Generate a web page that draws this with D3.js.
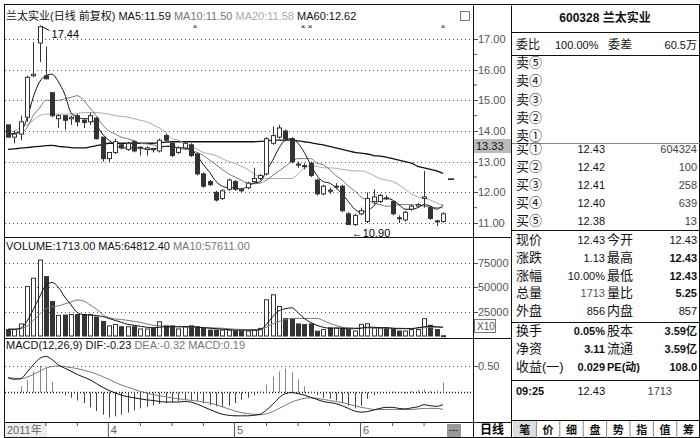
<!DOCTYPE html>
<html><head><meta charset="utf-8">
<script src="https://cdn.jsdelivr.net/npm/d3@7"></script>
<style>
body{margin:0;background:#fff;}
text{font-family:"Liberation Sans","Noto Sans CJK SC",sans-serif;}
</style></head>
<body><svg id="chart" width="700" height="438"></svg>
<script>
// daily candles: open, high, low, close
const opens  = [14.2,13.8,13.9,14.45,15.8,16.87,15.8,15.25,14.4,14.5,14.4,14.5,14.35,14.3,14.42,13.8,13.1,13.3,13.55,13.4,13.65,13.45,13.4,13.42,13.35,13.85,13.6,13.3,13.45,13.55,13.25,12.6,12.35,12.0,11.8,12.1,12.35,12.1,12.15,12.35,12.45,12.6,13.6,13.8,14.0,13.75,12.92,12.87,12.95,12.4,11.95,12.07,12.18,12.2,11.3,10.95,11.3,11.05,11.7,11.7,11.82,11.7,11.17,11.1,11.45,11.55,11.8,11.5,11.07,11.05];
const highs  = [14.2,14.0,14.5,15.8,16.9,17.44,16.75,15.25,14.55,14.5,14.5,14.55,14.4,14.6,14.45,13.8,13.3,13.75,13.6,13.65,13.7,13.5,13.5,13.45,13.75,13.9,13.65,13.5,13.65,13.6,13.3,12.65,12.4,12.05,12.1,12.45,12.4,12.15,12.35,12.8,12.6,13.8,14.15,14.2,14.05,13.8,13.0,12.95,13.0,12.45,12.25,12.15,12.3,12.25,11.35,11.3,11.5,12.0,12.1,11.95,11.9,11.75,11.25,11.4,11.6,11.65,12.7,11.55,11.1,11.35];
const lows   = [13.8,13.6,13.7,14.3,15.75,16.25,15.7,14.45,14.1,14.05,14.2,14.15,14.1,14.2,13.72,13.0,13.0,13.25,13.4,13.35,13.3,13.2,13.2,13.3,13.3,13.65,13.15,13.25,13.4,13.15,12.55,12.15,12.2,11.7,11.75,12.05,12.05,12.0,12.1,12.3,12.4,12.55,13.55,13.75,13.7,12.95,12.8,12.75,12.5,11.9,11.9,11.95,12.1,11.35,10.95,10.9,11.25,11.0,11.6,11.65,11.75,11.25,11.0,11.05,11.4,11.5,11.5,11.1,10.9,11.0];
const closes = [13.8,13.9,14.3,15.75,15.85,17.4,15.7,14.5,14.5,14.35,14.45,14.3,14.28,14.5,13.75,13.1,13.3,13.65,13.45,13.6,13.35,13.47,13.45,13.4,13.7,13.7,13.2,13.45,13.6,13.2,12.6,12.2,12.25,11.75,12.05,12.4,12.1,12.05,12.3,12.45,12.55,13.75,13.85,14.1,13.75,13.0,12.9,12.85,12.55,11.95,12.2,12.05,12.2,11.4,10.95,11.25,11.4,11.8,11.85,11.9,11.8,11.3,11.15,11.35,11.55,11.6,11.85,11.15,11.05,11.3];

const ma5  = [13.9,13.92,14.0,14.4,15.1,15.6,15.8,15.85,15.6,15.2,14.6,14.45,14.4,14.4,14.2,13.9,13.7,13.55,13.45,13.45,13.45,13.45,13.4,13.42,13.45,13.5,13.5,13.45,13.45,13.4,13.2,12.9,12.65,12.35,12.2,12.15,12.15,12.1,12.2,12.3,12.35,12.7,13.05,13.45,13.7,13.75,13.6,13.3,12.9,12.55,12.35,12.3,12.15,11.95,11.7,11.45,11.35,11.4,11.55,11.75,11.8,11.75,11.6,11.45,11.45,11.5,11.6,11.55,11.45,11.59];
const ma10 = [13.9,13.92,13.95,14.1,14.5,14.75,15.0,15.0,15.0,15.05,15.1,15.15,15.0,14.75,14.5,14.2,14.0,13.9,13.8,13.75,13.68,13.6,13.58,13.55,13.5,13.5,13.5,13.45,13.4,13.38,13.3,13.2,13.05,12.9,12.75,12.6,12.5,12.4,12.3,12.28,12.3,12.4,12.55,12.7,12.85,13.0,13.1,13.1,13.1,12.95,12.9,12.75,12.55,12.4,12.2,12.05,11.85,11.75,11.65,11.6,11.55,11.55,11.6,11.6,11.6,11.58,11.55,11.52,11.5,11.5];
const ma20 = [13.95,14.0,14.1,14.2,14.35,14.5,14.55,14.55,14.55,14.55,14.55,14.57,14.6,14.6,14.6,14.58,14.55,14.5,14.48,14.45,14.4,14.35,14.3,14.2,14.1,13.95,13.75,13.7,13.6,13.5,13.4,13.3,13.25,13.2,13.1,13.0,12.95,12.85,12.75,12.6,12.5,12.45,12.45,12.45,12.45,12.45,12.6,12.8,12.85,12.85,12.8,12.8,12.78,12.75,12.72,12.7,12.7,12.65,12.55,12.45,12.4,12.35,12.25,12.1,11.95,11.85,11.8,11.75,11.65,11.58];
const ma60 = [13.4,13.42,13.44,13.46,13.48,13.5,13.52,13.53,13.5,13.48,13.46,13.45,13.45,13.48,13.52,13.56,13.6,13.6,13.6,13.6,13.6,13.6,13.6,13.6,13.62,13.64,13.65,13.65,13.65,13.65,13.65,13.65,13.65,13.65,13.65,13.65,13.65,13.65,13.65,13.65,13.66,13.68,13.7,13.7,13.7,13.7,13.68,13.65,13.62,13.58,13.55,13.5,13.45,13.4,13.35,13.3,13.28,13.25,13.2,13.18,13.15,13.1,13.05,13.0,12.95,12.85,12.8,12.75,12.7,12.62];

const volume = [6600,6600,12400,50800,59400,78000,61000,35500,21200,21500,22000,22000,22000,22000,19500,15000,10400,11800,9500,9500,9500,7200,7200,7800,14600,10400,10400,7200,9500,10400,9500,7800,6100,6100,6100,6100,5100,5100,5100,6100,7800,37200,42300,30400,17800,17800,12400,11700,12400,4900,6600,8300,8300,8300,6600,5100,12000,12600,8300,8300,8300,7200,5100,5100,6600,6600,17800,11000,6600,300];
const vma5  = [7000,7000,8000,15000,27000,40000,52000,55000,50000,40000,32000,24000,22000,21500,21000,20000,18000,16000,14000,12000,11000,10000,9000,8500,9000,9500,9500,9500,9500,9500,9000,8500,8000,7500,7000,6500,6000,6000,6000,6000,6500,12000,20000,26000,28000,29000,24000,18000,14000,11000,9000,8000,8000,8000,7500,7500,8000,9000,9000,8500,8500,8000,7500,7500,7500,8500,9500,10000,9500,9000];
const vma10 = [7000,7000,7500,10000,16000,22000,28000,30000,31000,33000,35000,37000,36000,32000,28000,22000,19000,17500,17000,16000,15000,14000,12500,11000,10500,10000,9800,9500,9300,9200,9000,8800,8500,8200,8000,7500,7000,6800,6500,6500,6500,9000,12500,15000,17000,18000,18000,18000,18000,18000,16000,13000,11000,9000,8500,8200,8200,8200,8200,8100,8000,8000,8000,7800,7800,8200,8500,8800,9000,9000];

const dif = [.28,.25,.26,.38,.52,.64,.68,.62,.52,.46,.40,.34,.29,.24,.17,.10,.04,-.01,-.05,-.08,-.10,-.12,-.14,-.15,-.17,-.18,-.18,-.18,-.17,-.18,-.22,-.27,-.32,-.37,-.41,-.43,-.44,-.44,-.44,-.43,-.41,-.33,-.22,-.10,-.02,0,-.02,-.05,-.09,-.13,-.17,-.19,-.21,-.25,-.30,-.35,-.37,-.36,-.33,-.30,-.28,-.28,-.30,-.31,-.29,-.27,-.23,-.25,-.26,-.23];
const dea = [.28,.27,.26,.29,.34,.40,.46,.49,.50,.49,.47,.45,.42,.39,.35,.30,.25,.19,.14,.10,.06,.02,-.01,-.04,-.06,-.08,-.10,-.12,-.13,-.15,-.16,-.18,-.20,-.23,-.27,-.31,-.35,-.38,-.40,-.41,-.42,-.40,-.36,-.30,-.24,-.18,-.14,-.11,-.10,-.11,-.13,-.15,-.17,-.19,-.22,-.25,-.28,-.30,-.32,-.32,-.32,-.32,-.32,-.32,-.32,-.31,-.30,-.30,-.30,-.32];
const macd = [0,-0.02,0.12,0.24,0.4,0.5,0.45,0.2,0.0,-0.05,-0.1,-0.15,-0.2,-0.28,-0.35,-0.42,-0.47,-0.45,-0.42,-0.38,-0.34,-0.3,-0.27,-0.24,-0.22,-0.2,-0.18,-0.16,-0.15,-0.14,-0.16,-0.2,-0.24,-0.26,-0.27,-0.25,-0.2,-0.14,-0.1,-0.05,0.02,0.15,0.3,0.4,0.45,0.38,0.25,0.12,0.02,-0.05,-0.1,-0.12,-0.15,-0.2,-0.25,-0.3,-0.25,-0.12,-0.05,-0.02,0.0,0.02,0.0,-0.02,0.03,0.05,0.06,0.03,0.04,0.19];

const priceTicks = [11,12,13,14,15,16,17];
const volTicks = [25000,50000,75000];
const months = [{i:0,label:"2011年"},{i:16,label:"4"},{i:36,label:"5"},{i:56,label:"6"}];

const svg = d3.select('#chart');
const n = closes.length;
const x = d3.scaleLinear().domain([0, n-1]).range([8, 443]);
const yP = d3.scaleLinear().domain([11, 17]).range([223, 39]);
const yV = d3.scaleLinear().domain([0, 75000]).range([336, 263]);
const yM = d3.scaleLinear().domain([0, 0.5]).range([392.5, 366]);
const black = '#111', mid = '#777', light = '#aaa';

// frames
svg.append('rect').attr('x',4.5).attr('y',4.5).attr('width',695).attr('height',433).attr('fill','none').attr('stroke',black);
[[4,237,512,237],[4,338,512,338],[4,422,512,422],[473.5,5,473.5,438],[511.5,5,511.5,438]].forEach(l =>
  svg.append('line').attr('x1',l[0]).attr('y1',l[1]+.5).attr('x2',l[2]).attr('y2',l[3]+.5).attr('stroke',black));

svg.append('clipPath').attr('id','ax').append('rect').attr('x',474).attr('y',0).attr('width',36).attr('height',438);

function grid(vals, scale) {
  svg.append('g').selectAll('line').data(vals).join('line')
    .attr('x1',5).attr('x2',473).attr('y1',d=>Math.round(scale(d))+.5).attr('y2',d=>Math.round(scale(d))+.5)
    .attr('stroke','#555').attr('stroke-dasharray','1,3');
}
function axisLabels(vals, scale, fmt) {
  const g = svg.append('g').attr('clip-path','url(#ax)');
  g.selectAll('text').data(vals).join('text').attr('x',478).attr('y',d=>scale(d)+4)
    .attr('font-size',11).attr('fill','#555').text(fmt);
  g.selectAll('line').data(vals).join('line').attr('x1',474).attr('x2',478)
    .attr('y1',d=>Math.round(scale(d))+.5).attr('y2',d=>Math.round(scale(d))+.5).attr('stroke','#555');
}
grid(priceTicks, yP); axisLabels(priceTicks, yP, d=>d.toFixed(2));
grid(volTicks, yV); axisLabels(volTicks, yV, d=>d);
grid([0.5], yM); axisLabels([0.5], yM, d=>d.toFixed(2));
svg.append('line').attr('x1',5).attr('x2',473).attr('y1',yM(0)).attr('y2',yM(0)).attr('stroke',black).attr('stroke-width',1.5).attr('stroke-dasharray','1,2');

// minor ticks on price axis
const minor = d3.range(11.5, 17.5, 1);
svg.append('g').selectAll('line').data(minor).join('line').attr('x1',474).attr('x2',477)
  .attr('y1',d=>yP(d)).attr('y2',d=>yP(d)).attr('stroke','#555');

// 13.33 marker
svg.append('rect').attr('x',474).attr('y',139).attr('width',37).attr('height',14).attr('fill','#bbb');
svg.append('text').attr('x',476).attr('y',150).attr('font-size',11).attr('fill',black).text('13.33');
svg.append('rect').attr('x',474.5).attr('y',319.5).attr('width',21).attr('height',13).attr('fill','none').attr('stroke','#777');
svg.append('text').attr('x',477).attr('y',330).attr('font-size',10).attr('fill','#555').text('X10');

// MA lines
function line(data, scale, color, w) {
  svg.append('path').datum(data)
    .attr('d', d3.line().x((d,i)=>x(i)).y(d=>scale(d)).curve(d3.curveMonotoneX))
    .attr('fill','none').attr('stroke',color).attr('stroke-width',w||1);
}
line(ma60, yP, black, 1.3); line(ma20, yP, light); line(ma10, yP, mid); line(ma5, yP, black);

// candles
const idx = d3.range(n);
const up = i => closes[i] >= opens[i];
const cg = svg.append('g');
cg.selectAll('line').data(idx).join('line')
  .attr('x1',i=>Math.round(x(i))+.5).attr('x2',i=>Math.round(x(i))+.5)
  .attr('y1',i=>yP(highs[i])).attr('y2',i=>yP(lows[i])).attr('stroke','#333');
cg.selectAll('rect').data(idx).join('rect')
  .attr('x',i=>Math.round(x(i))-1.5).attr('width',4)
  .attr('y',i=>yP(Math.max(opens[i],closes[i]))).attr('height',i=>Math.max(1,Math.abs(yP(opens[i])-yP(closes[i]))))
  .attr('fill',i=>up(i)?'#fff':'#333').attr('stroke','#333');
svg.append('line').attr('x1',x(n-1)+5).attr('x2',x(n-1)+11).attr('y1',yP(12.43)).attr('y2',yP(12.43)).attr('stroke',black).attr('stroke-width',1.5);

// high / low notes
svg.append('line').attr('x1',x(5)+2).attr('y1',yP(17.44)+1).attr('x2',x(5)+10).attr('y2',yP(17.44)+5).attr('stroke',black);
svg.append('text').attr('x',x(5)+12).attr('y',yP(17.44)+12).attr('font-size',11).text('17.44');
svg.append('text').attr('x',x(55)-3).attr('y',yP(10.90)+11).attr('font-size',11).text('←10.90');
[195,303,310,443].forEach(px => svg.append('text').attr('x',px).attr('y',29).attr('font-size',8).attr('text-anchor','middle').text('×'));
svg.append('rect').attr('x',460.5).attr('y',11.5).attr('width',9).attr('height',9).attr('fill','none').attr('stroke','#777');

// volume
svg.append('g').selectAll('rect').data(idx).join('rect')
  .attr('x',i=>Math.round(x(i))-1.5).attr('width',4)
  .attr('y',i=>yV(volume[i])).attr('height',i=>Math.max(1,yV(0)-yV(volume[i])))
  .attr('fill',i=>up(i)?'#fff':'#333').attr('stroke','#333');
line(vma10, yV, mid); line(vma5, yV, black);

// macd
svg.append('g').selectAll('line').data(idx).join('line')
  .attr('x1',i=>Math.round(x(i))+.5).attr('x2',i=>Math.round(x(i))+.5)
  .attr('y1',yM(0)).attr('y2',i=>yM(macd[i])).attr('stroke',i=>macd[i]>=0?'#888':'#444');
line(dea, yM, mid); line(dif, yM, black);

// legends
function legend(y, parts) {
  const t = svg.append('text').attr('x',6).attr('y',y).attr('font-size',11);
  parts.forEach(p => t.append('tspan').attr('fill',p[1]).text(p[0]));
}
legend(20, [['兰太实业(日线 前复权) ',black],['MA5:11.59 ',black],['MA10:11.50 ',mid],['MA20:11.58 ',light],['MA60:12.62',black]]);
legend(250, [['VOLUME:1713.00 MA5:64812.40 ',black],['MA10:57611.00',mid]]);
legend(349, [['MACD(12,26,9) DIF:-0.23 ',black],['DEA:-0.32 MACD:0.19',mid]]);

// time axis
svg.append('rect').attr('x',5).attr('y',423).attr('width',42).attr('height',14).attr('fill','#eee');
months.forEach(m => {
  const px = m.i === 0 ? 6 : x(m.i)+1;
  if (m.i) svg.append('line').attr('x1',px-1.5).attr('x2',px-1.5).attr('y1',422).attr('y2',438).attr('stroke','#555');
  svg.append('text').attr('x',px+1).attr('y',434).attr('font-size',11).attr('fill','#666').text(m.label);
});
[6,11,21,26,31,41,46,51,61,66].forEach(i => svg.append('line').attr('x1',x(i)).attr('x2',x(i)).attr('y1',422).attr('y2',426).attr('stroke','#555'));
svg.append('rect').attr('x',447).attr('y',424).attr('width',14).attr('height',13).attr('fill','#999');
svg.append('text').attr('x',449).attr('y',433).attr('font-size',9).attr('fill',black).text('---');
svg.append('text').attr('x',492).attr('y',434).attr('font-size',12).attr('font-weight','bold').attr('text-anchor','middle').text('日线');

// right quote panel
const P = svg.append('g');
function t(xp, yp, s, o) {
  o = o || {};
  P.append('text').attr('x',xp).attr('y',yp).attr('font-size',o.size||12).attr('text-anchor',o.anchor||'start')
   .attr('font-weight',o.bold?'bold':'normal').attr('fill',o.fill||black).text(s);
}
t(605,22,'600328 兰太实业',{anchor:'middle',bold:true});
[32,55,143,230,322,380,420].forEach(yy => P.append('line').attr('x1',512).attr('x2',700).attr('y1',yy+.5).attr('y2',yy+.5).attr('stroke',yy===143?'#888':black));
t(516,49,'委比'); t(555,49,'100.00%',{size:11}); t(608,49,'委差'); t(697,49,'60.5万',{anchor:'end',size:11});
const sells = ['卖⑤','卖④','卖③','卖②','卖①'];
const sellY = [67,85,104,122,140];
sells.forEach((s,i) => t(516,sellY[i],s,{size:13}));
const buys = ['买①','买②','买③','买④','买⑤'];
const buyPrice = ['12.43','12.42','12.41','12.40','12.38'];
const buyVol = ['604324','100','258','639','13'];
const buyY = [153,171,189,207,225];
buys.forEach((s,i) => { t(516,buyY[i],s,{size:13}); t(605,buyY[i],buyPrice[i],{anchor:'end',size:11}); t(697,buyY[i],buyVol[i],{anchor:'end',size:11,fill:'#444'}); });
const statL = ['现价','涨跌','涨幅','总量','外盘'], statLV = ['12.43','1.13','10.00%','1713','856'];
const statR = ['今开','最高','最低','量比','内盘'], statRV = ['12.43','12.43','12.43','5.25','857'];
const statY = [244,262,280,297,315];
statL.forEach((s,i) => { t(516,statY[i],s,{size:13}); t(605,statY[i],statLV[i],{anchor:'end',size:11,fill:i===3?'#555':black});
  t(607,statY[i],statR[i],{size:13}); t(697,statY[i],statRV[i],{anchor:'end',size:11,bold:i>0&&i<4}); });
const finL = ['换手','净资','收益(一)'], finLV = ['0.05%','3.11','0.029'];
const finR = ['股本','流通','PE(动)'], finRV = ['3.59亿','3.59亿','108.0'];
const finY = [335,353,371];
finL.forEach((s,i) => { t(516,finY[i],s,{size:13}); t(605,finY[i],finLV[i],{anchor:'end',size:11,bold:true});
  t(607,finY[i],finR[i],{bold:i===2,size:i===2?11:13}); t(697,finY[i],finRV[i],{anchor:'end',size:11,bold:true}); });
t(516,395,'09:25',{size:11,bold:true}); t(605,395,'12.43',{anchor:'end',size:11}); t(672,395,'1713',{anchor:'end',size:11,fill:'#444'});
const tabs = ['笔','价','细','盘','势','指','值','筹'];
tabs.forEach((s,i) => {
  const tx = 513 + i*23.4;
  if (i===0) P.append('rect').attr('x',tx).attr('y',421).attr('width',23).attr('height',16).attr('fill','#ddd');
  if (i) P.append('line').attr('x1',tx).attr('x2',tx).attr('y1',421).attr('y2',438).attr('stroke','#888');
  t(tx+11.7,434,s,{anchor:'middle',size:11,bold:true});
});
</script></body></html>
